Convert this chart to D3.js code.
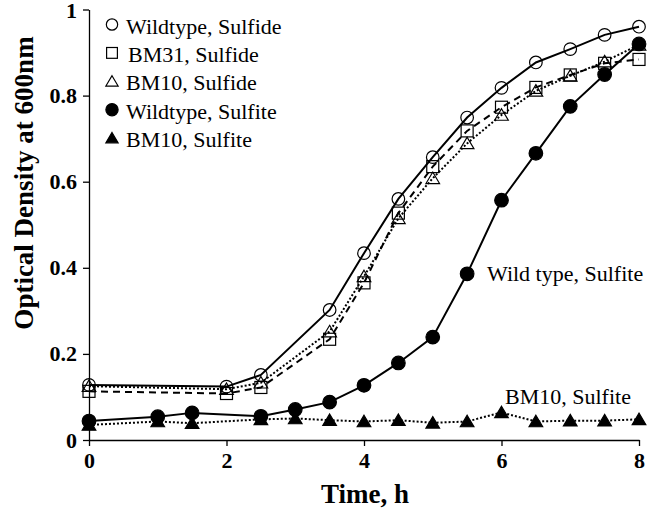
<!DOCTYPE html>
<html><head><meta charset="utf-8">
<script src="https://cdn.jsdelivr.net/npm/d3@7"></script>
<style>html,body{margin:0;padding:0;background:#fff;}svg{display:block;}svg text{font-family:"Liberation Serif","Times New Roman",serif;}</style>
</head><body>
<svg id="chart" width="650" height="509"></svg>
<script>
// ---- data ----
const timesSulfide = [0, 2, 2.5, 3.5, 4, 4.5, 5, 5.5, 6, 6.5, 7, 7.5, 8];
const wildtypeSulfide = [0.128, 0.124, 0.151, 0.302, 0.434, 0.560, 0.657, 0.749, 0.818, 0.877, 0.908, 0.941, 0.960];
const bm31Sulfide = [0.113, 0.108, 0.122, 0.234, 0.365, 0.527, 0.635, 0.718, 0.773, 0.819, 0.848, 0.875, 0.884];
const bm10Sulfide = [0.125, 0.118, 0.133, 0.252, 0.380, 0.515, 0.608, 0.689, 0.755, 0.811, 0.846, 0.879, 0.918];
const timesSulfite = [0, 1, 1.5, 2.5, 3, 3.5, 4, 4.5, 5, 5.5, 6, 6.5, 7, 7.5, 8];
const wildtypeSulfite = [0.044, 0.054, 0.063, 0.055, 0.071, 0.088, 0.127, 0.179, 0.239, 0.386, 0.557, 0.666, 0.775, 0.849, 0.920];
const bm10Sulfite = [0.035, 0.043, 0.039, 0.048, 0.050, 0.046, 0.043, 0.046, 0.040, 0.043, 0.064, 0.043, 0.045, 0.045, 0.048];
const xTicks = [0, 2, 4, 6, 8];
const yTicks = [0, 0.2, 0.4, 0.6, 0.8, 1];
const yTickLabels = ["0", "0.2", "0.4", "0.6", "0.8", "1"];
const legendLabels = ["Wildtype, Sulfide", "BM31, Sulfide", "BM10, Sulfide", "Wildtype, Sulfite", "BM10, Sulfite"];
const xTitle = "Time, h";
const yTitle = "Optical Density at 600nm";

// ---- setup ----
const FONT = '"Liberation Serif","Times New Roman",serif';
const svg = d3.select("#chart");
const x = d3.scaleLinear().domain([0, 8]).range([89, 639]);
const y = d3.scaleLinear().domain([0, 1]).range([440, 9.5]);

const series = [
  {t: timesSulfide, v: wildtypeSulfide, marker: "circle", fill: "none", dash: null},
  {t: timesSulfide, v: bm31Sulfide, marker: "square", fill: "none", dash: "7,5"},
  {t: timesSulfide, v: bm10Sulfide, marker: "triangle", fill: "none", dash: "2,2"},
  {t: timesSulfite, v: wildtypeSulfite, marker: "circle", fill: "#000", dash: null},
  {t: timesSulfite, v: bm10Sulfite, marker: "triangle", fill: "#000", dash: "2,2"}
];

function drawMarker(g, type, cx, cy, fill, s) {
  s = s || 1;
  if (type === "circle") {
    g.append("circle").attr("cx", cx).attr("cy", cy).attr("r", (fill === "none" ? 6.3 : 6.8) * s)
      .attr("fill", fill).attr("stroke", "#000").attr("stroke-width", 1.2);
  } else if (type === "square") {
    const h = 6 * s;
    g.append("rect").attr("x", cx - h).attr("y", cy - h).attr("width", 2 * h).attr("height", 2 * h)
      .attr("fill", fill).attr("stroke", "#000").attr("stroke-width", 1.2);
  } else {
    const w = 6.8 * s, hh = 6.2 * s;
    g.append("path").attr("d", `M${cx},${cy - hh}L${cx + w},${cy + hh * 0.85}L${cx - w},${cy + hh * 0.85}Z`)
      .attr("fill", fill).attr("stroke", "#000").attr("stroke-width", 1.2);
  }
}

// axes
const yAxis = svg.append("g").attr("transform", `translate(${x(0)},0)`)
  .call(d3.axisLeft(y).tickValues(yTicks).tickFormat((d, i) => yTickLabels[i]).tickSize(6).tickSizeOuter(0));
const xAxis = svg.append("g").attr("transform", `translate(0,${y(0)})`)
  .call(d3.axisBottom(x).tickValues(xTicks).tickFormat(d3.format("d")).tickSize(6).tickSizeOuter(0));
[xAxis, yAxis].forEach(a => {
  a.attr("font-family", FONT);
  a.selectAll("path.domain").attr("stroke", "#000").attr("stroke-width", 1.3);
  a.selectAll(".tick line").attr("stroke", "#000").attr("stroke-width", 1.3);
  a.selectAll(".tick text").attr("fill", "#000").style("font-family", FONT)
    .style("font-size", "22px").style("font-weight", "bold");
});
yAxis.selectAll(".tick text").attr("x", -12);
yAxis.selectAll(".tick text").filter(d => d === 1).attr("dy", "0.38em");
xAxis.selectAll(".tick text").attr("y", 12);

svg.append("text").attr("x", 365).attr("y", 503).attr("text-anchor", "middle")
  .style("font-family", FONT).style("font-size", "27px").style("font-weight", "bold").text(xTitle);
svg.append("text").attr("transform", `translate(33,183) rotate(-90)`).attr("text-anchor", "middle")
  .style("font-family", FONT).style("font-size", "27px").style("font-weight", "bold").text(yTitle);

// lines & markers
const plot = svg.append("g");
series.forEach(s => {
  const pts = s.t.map((t, i) => [t, s.v[i]]);
  const line = d3.line().x(d => x(d[0])).y(d => y(d[1]));
  plot.append("path").attr("d", line(pts)).attr("fill", "none").attr("stroke", "#000")
    .attr("stroke-width", 2).attr("stroke-dasharray", s.dash);
});
series.forEach(s => {
  const g = plot.append("g");
  s.t.forEach((t, i) => drawMarker(g, s.marker, x(t), y(s.v[i]), s.fill));
});

// legend
const leg = svg.append("g");
series.forEach((s, i) => {
  const by = 33.5 + i * 28.4;
  drawMarker(leg, s.marker, 112, by - 9, s.fill, 0.9);
  leg.append("text").attr("x", i === 1 ? 128 : 126).attr("y", by)
    .style("font-family", FONT).style("font-size", "22px").text(legendLabels[i]);
});

// annotations
svg.append("text").attr("x", 487).attr("y", 281).style("font-family", FONT).style("font-size", "22px").text("Wild type, Sulfite");
svg.append("text").attr("x", 505).attr("y", 404).style("font-family", FONT).style("font-size", "22px").text("BM10, Sulfite");
</script>
</body></html>
